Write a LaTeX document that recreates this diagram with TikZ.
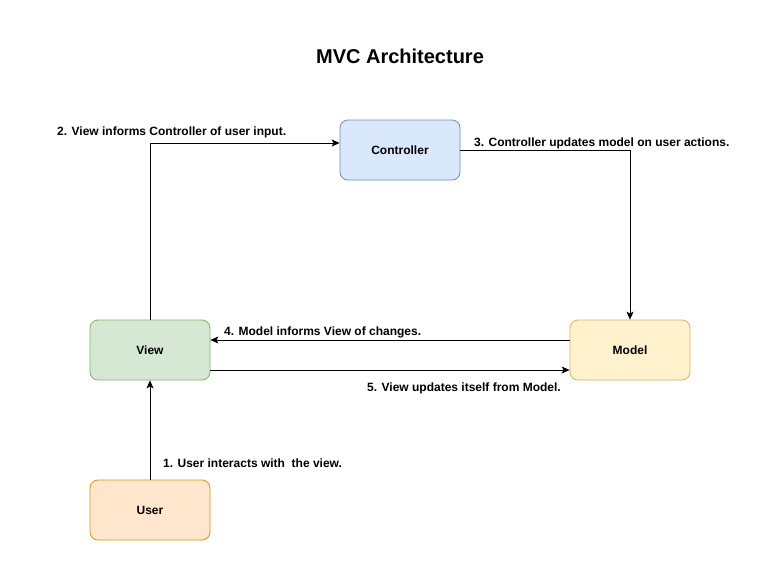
\documentclass[tikz,border=0pt]{standalone}
\usepackage{fontspec}
\setmainfont{Liberation Sans}
\usetikzlibrary{arrows.meta}
\begin{document}
\begin{tikzpicture}[x=1pt,y=-1pt,
  box/.style={rounded corners=8pt,minimum width=120pt,minimum height=60pt,line width=0.8pt,font=\fontsize{12}{14}\selectfont\bfseries,inner sep=0pt,text depth=-1pt},
  conn/.style={line width=0.8pt,-{Stealth[length=8pt,width=7pt,inset=2pt]}},
  lbl/.style={font=\fontsize{12}{14}\selectfont\bfseries,inner sep=0pt}]
\definecolor{cfill}{HTML}{DAE8FC}\definecolor{cdraw}{HTML}{6C8EBF}
\definecolor{vfill}{HTML}{D5E8D4}\definecolor{vdraw}{HTML}{82B366}
\definecolor{mfill}{HTML}{FFF2CC}\definecolor{mdraw}{HTML}{D6B656}
\definecolor{ufill}{HTML}{FFE6CC}\definecolor{udraw}{HTML}{D79B00}
\useasboundingbox[fill=white] (0,0) rectangle (780,571);
\node[font=\fontsize{20}{24}\selectfont\bfseries] (title) at (400,56.5) {MVC Architecture};
\node[box,fill=cfill,draw=cdraw] (ctrl) at (400,150) {Controller};
\node[box,fill=vfill,draw=vdraw] (view) at (150,350) {View};
\node[box,fill=mfill,draw=mdraw] (model) at (630,350) {Model};
\node[box,fill=ufill,draw=udraw] (user) at (150,510) {User};
\coordinate (c2) at (150,143);
\coordinate (c3) at (630,150);
\draw[conn] (view.north) -- (c2) -- (ctrl.west |- c2);
\draw[conn] (ctrl.east) -- (c3) -- (model.north);
\draw[conn] (model.west |- 0,340) -- (view.east |- 0,340);
\draw[conn] (view.east |- 0,370) -- (model.west |- 0,370);
\draw[conn] (user.north) -- (view.south);
\node[lbl,anchor=west] (l2) at (57,132) {2. View informs Controller of user input.};
\node[lbl,anchor=west] (l3) at (474,143) {3. Controller updates model on user actions.};
\node[lbl,anchor=west] (l4) at (224,332) {4. Model informs View of changes.};
\node[lbl,anchor=west] (l5) at (367,388) {5. View updates itself from Model.};
\node[lbl,anchor=west] (l1) at (163,463) {1. User interacts with\ \ the view.};
\end{tikzpicture}
\end{document}
